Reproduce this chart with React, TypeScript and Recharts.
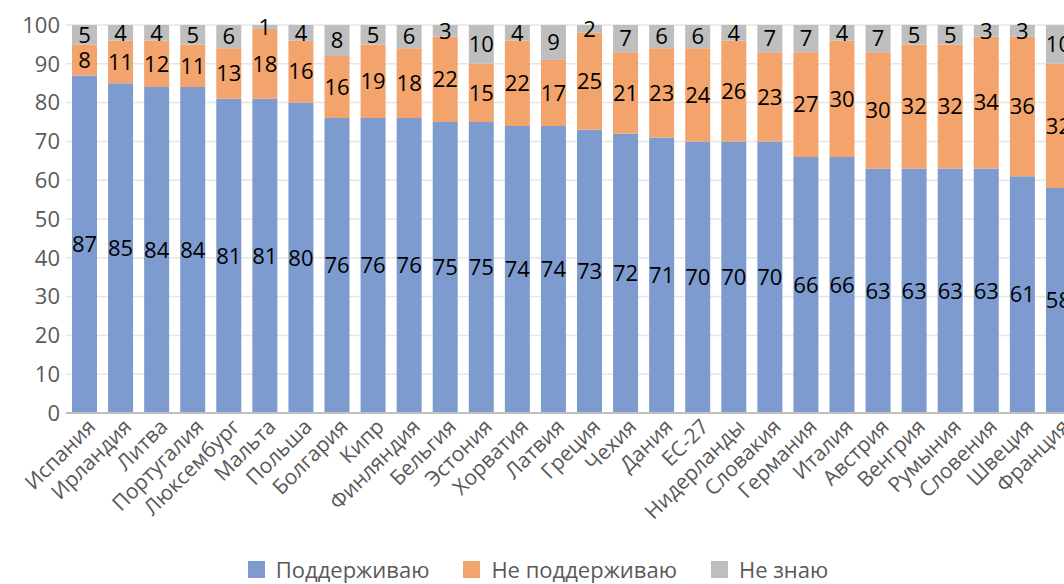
import React from 'react';
import {
  BarChart,
  Bar,
  XAxis,
  YAxis,
  CartesianGrid,
  Legend,
  LabelList
} from 'recharts';

const countries = [
  'Испания', 'Ирландия', 'Литва', 'Португалия', 'Люксембург', 'Мальта', 'Польша',
  'Болгария', 'Кипр', 'Финляндия', 'Бельгия', 'Эстония', 'Хорватия', 'Латвия',
  'Греция', 'Чехия', 'Дания', 'ЕС-27', 'Нидерланды', 'Словакия', 'Германия',
  'Италия', 'Австрия', 'Венгрия', 'Румыния', 'Словения', 'Швеция', 'Франция'
];

const support = [87, 85, 84, 84, 81, 81, 80, 76, 76, 76, 75, 75, 74, 74, 73, 72, 71, 70, 70, 70, 66, 66, 63, 63, 63, 63, 61, 58];
const against = [8, 11, 12, 11, 13, 18, 16, 16, 19, 18, 22, 15, 22, 17, 25, 21, 23, 24, 26, 23, 27, 30, 30, 32, 32, 34, 36, 32];
const unknown = [5, 4, 4, 5, 6, 1, 4, 8, 5, 6, 3, 10, 4, 9, 2, 7, 6, 6, 4, 7, 7, 4, 7, 5, 5, 3, 3, 10];

const yTicks = [0, 10, 20, 30, 40, 50, 60, 70, 80, 90, 100];

const seriesNames = ['Поддерживаю', 'Не поддерживаю', 'Не знаю'];
const colors = ['#7E9BCF', '#F3A36C', '#BEBEBE'];

const data = countries.map((name, i) => ({
  name,
  support: support[i],
  against: against[i],
  unknown: unknown[i]
}));

const FONT = '"Open Sans", "Noto Sans", sans-serif';

const AngledTick = ({ x, y, payload }: any) => (
  <g transform={`translate(${x},${y})`}>
    <text
      x={4}
      y={0}
      dy={14}
      textAnchor="end"
      transform="rotate(-45)"
      fill="#595959"
      fontSize={21}
      fontFamily={FONT}
    >
      {payload.value}
    </text>
  </g>
);

const LegendContent = () => (
  <div
    style={{
      display: 'flex',
      justifyContent: 'center',
      alignItems: 'center',
      fontFamily: FONT,
      fontSize: 22,
      color: '#595959',
      height: 30
    }}
  >
    {seriesNames.map((n, i) => (
      <div key={n} style={{ display: 'flex', alignItems: 'center', marginRight: i < 2 ? 34 : 0 }}>
        <span style={{ width: 17, height: 17, background: colors[i], display: 'inline-block', marginRight: 11 }} />
        <span>{n}</span>
      </div>
    ))}
  </div>
);

export default function App() {
  return (
    <div
      style={{
        position: 'absolute',
        left: 0,
        top: 0,
        width: 1064,
        height: 584,
        overflow: 'hidden',
        background: '#fff'
      }}
    >
      <BarChart
        width={1079}
        height={584}
        data={data}
        margin={{ top: 25, right: 3, left: 0, bottom: 0 }}
        barSize={25}
      >
        <CartesianGrid vertical={false} stroke="#e6e6e6" strokeWidth={1.5} />
        <XAxis
          dataKey="name"
          interval={0}
          height={141}
          tickLine={false}
          axisLine={{ stroke: '#bfbfbf', strokeWidth: 2 }}
          tick={<AngledTick />}
        />
        <YAxis
          domain={[0, 100]}
          ticks={yTicks}
          width={66}
          axisLine={false}
          tickLine={false}
          tickSize={0}
          tickMargin={6}
          tick={{ fill: '#595959', fontSize: 22, fontFamily: FONT }}
        />
        <Legend verticalAlign="bottom" content={<LegendContent />} />
        <Bar dataKey="support" name={seriesNames[0]} stackId="a" fill={colors[0]} isAnimationActive={false}>
          <LabelList dataKey="support" position="center" fill="#000" fontSize={22} fontFamily={FONT} />
        </Bar>
        <Bar dataKey="against" name={seriesNames[1]} stackId="a" fill={colors[1]} isAnimationActive={false}>
          <LabelList dataKey="against" position="center" fill="#000" fontSize={22} fontFamily={FONT} />
        </Bar>
        <Bar dataKey="unknown" name={seriesNames[2]} stackId="a" fill={colors[2]} isAnimationActive={false}>
          <LabelList dataKey="unknown" position="center" fill="#000" fontSize={22} fontFamily={FONT} />
        </Bar>
      </BarChart>
    </div>
  );
}
